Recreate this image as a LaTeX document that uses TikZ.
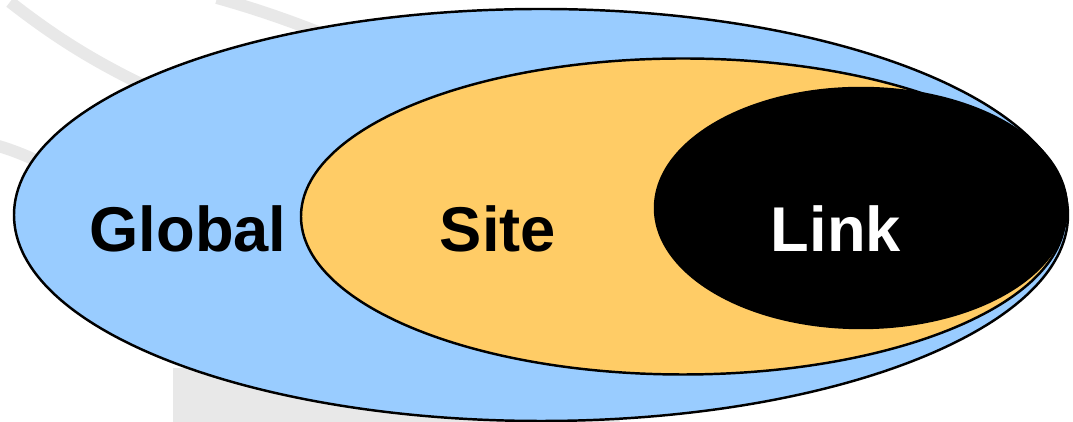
\documentclass[tikz,border=0pt]{standalone}
\usepackage{fontspec}
\setsansfont{Liberation Sans}
\usetikzlibrary{shapes.geometric}
\definecolor{scblue}{HTML}{99CCFF}
\definecolor{scorange}{HTML}{FFCC66}
\definecolor{scgrey}{HTML}{E8E8E8}

\begin{document}
\begin{tikzpicture}[
      font=\sffamily\bfseries\fontsize{18}{21}\selectfont,
      zone/.style={ellipse, draw=black, line width=0.7pt, inner sep=0pt},
      zlbl/.style={anchor=base, inner sep=0pt},
      deco/.style={draw=scgrey, line width=0.12cm}
    ]
    \useasboundingbox (0,0) rectangle (10.73,4.22);
    % ------------- slide background -------------
    \fill[white] (0,0) rectangle (10.73,4.22);
    \fill[scgrey] (1.73,0) rectangle (6.2,0.54);
    \draw[deco] (0.10,4.20) .. controls (0.55,3.85) and (1.0,3.55) .. (1.8,3.2);
    \draw[deco] (-0.05,2.77) .. controls (0.2,2.70) and (0.4,2.60) .. (0.6,2.5);
    \draw[deco] (2.17,4.24) .. controls (2.6,4.12) and (3.0,3.98) .. (3.5,3.77);
    % ------------- scopes -------------
    \node[zone, fill=scblue, minimum width=10.54cm, minimum height=4.12cm]
      (global) at (5.41,2.07) {};
    \node[zone, fill=scorange, minimum width=7.64cm, minimum height=3.16cm]
      (site) at (6.83,2.055) {};
    \node[zone, fill=black, minimum width=4.12cm, minimum height=2.40cm]
      (link) at (8.61,2.14) {};
    % ------------- labels -------------
    \node[zlbl] (globallbl) at (1.88,1.70) {Global};
    \node[zlbl] (sitelbl) at (4.98,1.70) {Site};
    \node[zlbl, text=white] (linklbl) at (8.36,1.70) {Link};
  \end{tikzpicture}
\end{document}
